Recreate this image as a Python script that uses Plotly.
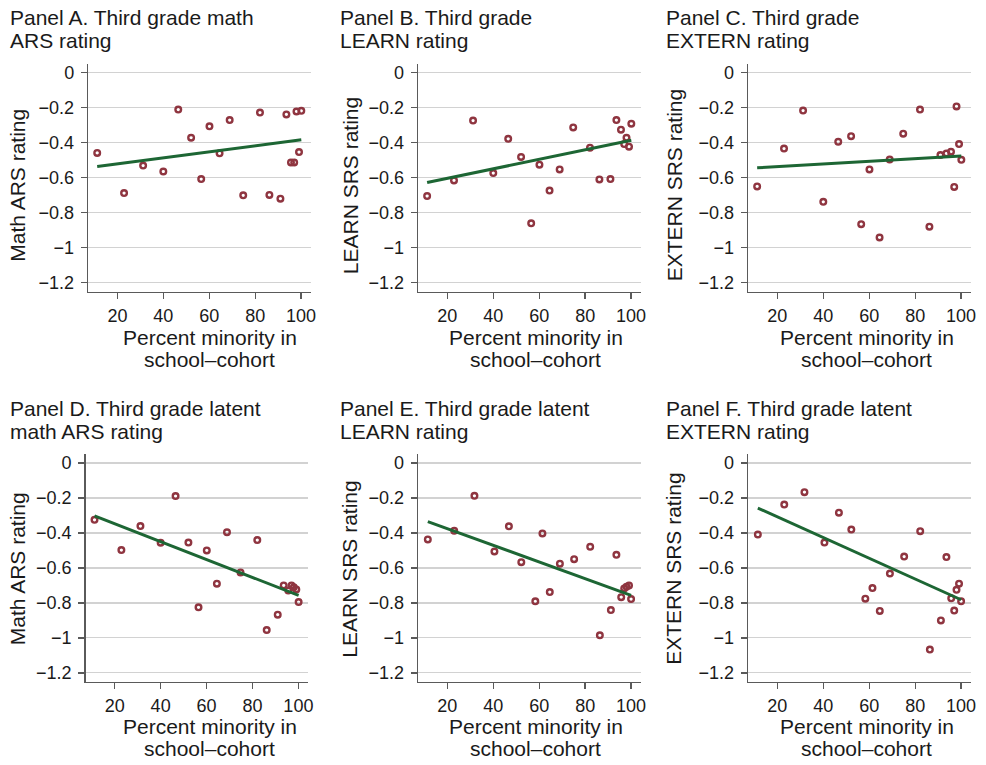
import plotly.graph_objects as go

# ---------------- data ----------------
# percent minority in school-cohort (panels A-D share schools; E-F slightly differ)
x_main = [11.2, 22.9, 31.2, 40.0, 46.5, 52.1, 56.5, 60.1, 64.5, 68.9,
          74.8, 82.1, 86.2, 91.0, 93.6, 95.6, 97.0, 98.0, 99.1, 100.1]
x_ef = [11.5, 23.0, 31.8, 40.5, 46.8, 52.2, 58.3, 61.4, 64.6, 69.0,
        75.2, 82.2, 86.4, 91.2, 93.6, 95.7, 97.0, 98.0, 99.1, 100.0]

y_A = [-0.458, -0.687, -0.530, -0.564, -0.210, -0.371, -0.607, -0.306, -0.460, -0.270,
       -0.700, -0.227, -0.698, -0.719, -0.238, -0.512, -0.512, -0.221, -0.453, -0.217]
y_B = [-0.704, -0.615, -0.273, -0.573, -0.377, -0.481, -0.860, -0.525, -0.673, -0.552,
       -0.312, -0.428, -0.609, -0.607, -0.270, -0.325, -0.407, -0.371, -0.422, -0.291]
y_C = [-0.649, -0.433, -0.216, -0.737, -0.394, -0.362, -0.865, -0.552, -0.941, -0.495,
       -0.348, -0.210, -0.879, -0.470, -0.461, -0.451, -0.652, -0.192, -0.407, -0.497]
y_D = [-0.325, -0.498, -0.361, -0.456, -0.189, -0.455, -0.825, -0.500, -0.690, -0.396,
       -0.626, -0.441, -0.955, -0.867, -0.700, -0.729, -0.700, -0.711, -0.723, -0.795]
y_E = [-0.437, -0.388, -0.188, -0.506, -0.362, -0.567, -0.791, -0.403, -0.738, -0.576,
       -0.550, -0.479, -0.985, -0.841, -0.525, -0.767, -0.717, -0.708, -0.700, -0.778]
y_F = [-0.409, -0.238, -0.167, -0.455, -0.284, -0.381, -0.776, -0.715, -0.846, -0.632,
       -0.535, -0.390, -1.067, -0.900, -0.538, -0.774, -0.844, -0.725, -0.690, -0.791]

# fitted line values at the lowest and highest x of each panel
fit_A = [-0.535, -0.383]
fit_B = [-0.627, -0.385]
fit_C = [-0.543, -0.476]
fit_D = [-0.302, -0.757]
fit_E = [-0.335, -0.757]
fit_F = [-0.258, -0.782]

panel_titles = [
    ("Panel A. Third grade math", "ARS rating"),
    ("Panel B. Third grade", "LEARN rating"),
    ("Panel C. Third grade", "EXTERN rating"),
    ("Panel D. Third grade latent", "math ARS rating"),
    ("Panel E. Third grade latent", "LEARN rating"),
    ("Panel F. Third grade latent", "EXTERN rating"),
]
y_titles = ["Math ARS rating", "LEARN SRS rating", "EXTERN SRS rating",
            "Math ARS rating", "LEARN SRS rating", "EXTERN SRS rating"]
x_title_lines = ["Percent minority in", "school\u2013cohort"]

x_tickvals = [20, 40, 60, 80, 100]
y_tickvals = [0, -0.2, -0.4, -0.6, -0.8, -1, -1.2]
y_ticktext = ["0", "\u22120.2", "\u22120.4", "\u22120.6", "\u22120.8", "\u22121", "\u22121.2"]

series = [(x_main, y_A, fit_A), (x_main, y_B, fit_B), (x_main, y_C, fit_C),
          (x_main, y_D, fit_D), (x_ef, y_E, fit_E), (x_ef, y_F, fit_F)]

# ---------------- layout geometry (pixels) ----------------
W, H = 986, 765
cols = [dict(x0=88.7, x1=312.3, tx=7.7, ytx=17.5, xtx=210.6),
        dict(x0=420.3, x1=644.0, tx=340.0, ytx=351.7, xtx=538.3),
        dict(x0=752.0, x1=975.7, tx=667.7, ytx=677.5, xtx=871.2)]
rows = [dict(y0=63.3, y1=291.7, t1=16.7, t2=39.5, yty=185.0, xt1=337.5, xt2=360.0),
        dict(y0=455.0, y1=683.3, t1=409.2, t2=432.2, yty=570.0, xt1=728.5, xt2=750.5)]
col_shift = [[0, 0, 0], [-2.7, 0, 0]]

FONT = "Liberation Sans, Arial, Helvetica, sans-serif"
TXT = "#1a1a1a"
MARK = "#8f3540"
LINEC = "#1d6634"
AXC = "#5a5a5a"
GRID = "#d2d2d2"

def px(x):
    return x / W

def py(y):
    return 1 - y / H

fig = go.Figure()
annotations = []
layout = {}

for i, (xs, ys, fit) in enumerate(series):
    r, c = divmod(i, 3)
    C, R = cols[c], rows[r]
    sh = col_shift[r][c]
    sfx = "" if i == 0 else str(i + 1)
    xa, ya = "x" + sfx, "y" + sfx

    fig.add_trace(go.Scatter(
        x=xs, y=ys, mode="markers", xaxis=xa, yaxis=ya, showlegend=False,
        marker=dict(symbol="circle-open", size=5.6, color=MARK, line=dict(width=2.4, color=MARK))))
    fig.add_trace(go.Scatter(
        x=[min(xs), max(xs)], y=fit, mode="lines", xaxis=xa, yaxis=ya, showlegend=False,
        line=dict(color=LINEC, width=3)))

    layout["xaxis" + sfx] = dict(
        domain=[px(C["x0"] + sh), px(C["x1"] + sh)], anchor=ya, range=[7.3, 104.2],
        tickvals=x_tickvals, ticks="outside", ticklen=6, tickwidth=1.3, tickcolor=AXC,
        showline=True, linecolor=AXC, linewidth=1.5, showgrid=False, zeroline=False,
        tickfont=dict(family=FONT, size=18, color=TXT), ticklabelstandoff=1)
    layout["yaxis" + sfx] = dict(
        domain=[py(R["y1"]), py(R["y0"])], anchor=xa, range=[-1.25, 0.05],
        tickvals=y_tickvals, ticktext=y_ticktext, ticks="outside", ticklen=6, tickwidth=1.3,
        tickcolor=AXC, showline=True, linecolor=AXC, linewidth=1.5,
        showgrid=True, gridcolor=GRID, gridwidth=1.2, zeroline=False,
        tickfont=dict(family=FONT, size=18, color=TXT), ticklabelstandoff=3)

    t1, t2 = panel_titles[i]
    for txt, yy in ((t1, R["t1"]), (t2, R["t2"])):
        annotations.append(dict(text=txt, x=px(C["tx"]), y=py(yy), xref="paper", yref="paper",
                                xanchor="left", yanchor="middle", showarrow=False,
                                font=dict(family=FONT, size=21, color=TXT)))
    annotations.append(dict(text=y_titles[i], x=px(C["ytx"]), y=py(R["yty"]), xref="paper",
                            yref="paper", xanchor="center", yanchor="middle", textangle=-90,
                            showarrow=False, font=dict(family=FONT, size=21, color=TXT)))
    for txt, yy in ((x_title_lines[0], R["xt1"]), (x_title_lines[1], R["xt2"])):
        annotations.append(dict(text=txt, x=px(C["xtx"]), y=py(yy), xref="paper", yref="paper",
                                xanchor="center", yanchor="middle", showarrow=False,
                                font=dict(family=FONT, size=21, color=TXT)))

fig.update_layout(
    width=W, height=H, margin=dict(l=0, r=0, t=0, b=0),
    paper_bgcolor="white", plot_bgcolor="white", hovermode=False,
    font=dict(family=FONT, color=TXT), annotations=annotations, **layout)

fig.write_html("out.html", config={"displayModeBar": False, "staticPlot": True},
               post_script="document.body.style.margin='0px';document.body.style.overflow='hidden';")
